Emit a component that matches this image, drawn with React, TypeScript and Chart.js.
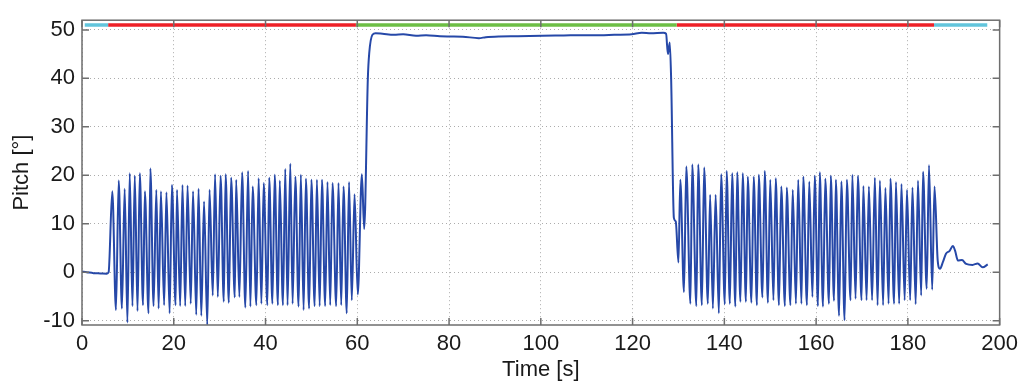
import React, { useEffect, useRef } from 'react';
import { Chart, registerables } from 'chart.js';

Chart.register(...registerables);

// Pitch time series (time in s, pitch in degrees)
const timeS = [
  0, 1, 2.5, 4, 5.4, 5.8,
  6.6, 7.4, 8.0, 8.7, 9.3, 9.9, 10.4, 11.0, 11.5, 12.1, 12.6, 13.3, 13.7, 14.5,
  14.9, 15.6, 16.2, 16.7, 17.2, 17.9, 18.4, 19.1, 19.6, 20.4, 20.7, 21.4, 21.9, 22.5,
  23.0, 23.7, 24.2, 24.9, 25.4, 26.0, 26.6, 27.3, 27.8, 28.5, 29.0, 29.6, 30.2, 30.9,
  31.3, 32.0, 32.5, 33.3, 33.6, 34.3, 34.9, 35.6, 36.2, 36.7, 37.2, 38.0, 38.5, 39.1,
  39.6, 40.4, 40.8, 41.5, 42.0, 42.7, 43.1, 43.8, 44.3, 44.8, 45.4, 45.9, 46.5, 47.2,
  47.7, 48.3, 48.8, 49.5, 50.0, 50.7, 51.2, 51.8, 52.3, 53.0, 53.5, 54.1, 54.6, 55.4,
  55.9, 56.5, 57.0, 57.7, 58.2, 58.8, 59.4, 60.1, 61.0, 61.5,
  62.3, 62.6, 63.3, 64.0, 65.5, 68.0, 70.0, 72.8, 75.0, 78.0, 80.0, 83.0, 86.5, 88.0,
  90.9, 95.0, 100.3, 105.0, 109.0, 113.0, 116.0, 119.8, 122.0, 124.0, 126.7, 127.3,
  127.7, 128.1, 128.4, 129.0, 129.4, 130.0,
  130.4, 131.2, 131.7, 132.6, 133.0, 133.9, 134.3, 135.1, 135.6, 136.4, 136.9, 137.5,
  138.1, 138.8, 139.3, 140.1, 140.5, 141.2, 141.7, 142.4, 142.8, 143.5, 144.0, 144.7,
  145.1, 145.9, 146.4, 147.1, 147.5, 148.3, 148.8, 149.5, 150.0, 150.7, 151.2, 151.9,
  152.4, 153.2, 153.6, 154.4, 154.9, 155.6, 156.1, 156.8, 157.2, 158.0, 158.5, 159.2,
  159.7, 160.4, 160.8, 161.5, 162.0, 162.8, 163.2, 163.9, 164.3, 165.0, 165.5, 166.2,
  166.7, 167.5, 167.9, 168.6, 169.1, 169.9, 170.3, 171.0, 171.5, 172.2, 172.8, 173.4,
  173.9, 174.6, 175.1, 175.8, 176.2, 177.0, 177.4, 178.1, 178.6, 179.3, 179.8, 180.5,
  181.0, 181.7, 182.2, 182.9, 183.3, 184.1, 184.6, 185.3, 185.8, 186.5, 187.0,
  187.6, 188.3, 189.1, 189.8, 190.3, 190.9, 191.8, 192.7, 194.1, 195.2, 196.3, 197.4,
];

const pitchDeg = [
  0.1, 0.0, -0.2, -0.25, -0.3, 0.0,
  16.7, -7.8, 18.9, -7.5, 17.2, -10.4, 20.4, -7.0, 19.9, -8.0, 20.4, -6.8, 16.7, -8.5,
  21.4, -7.0, 17.0, -7.5, 16.7, -6.8, 16.5, -8.5, 18.0, -6.8, 17.0, -7.0, 18.0, -7.0,
  17.9, -6.5, 16.7, -8.8, 17.2, -9.0, 14.6, -10.9, 17.0, -4.8, 20.2, -5.1, 19.9, -6.1,
  20.2, -6.3, 19.5, -5.2, 19.1, -5.1, 20.6, -7.3, 20.9, -7.1, 17.7, -6.8, 19.4, -6.5,
  18.4, -6.8, 19.5, -6.5, 20.1, -6.8, 18.9, -6.8, 21.3, -6.8, 22.4, -6.5, 19.7, -7.1,
  20.1, -7.8, 19.3, -7.5, 19.1, -7.0, 19.1, -7.0, 19.1, -7.0, 18.6, -6.8, 18.4, -7.0,
  18.4, -6.8, 17.7, -8.5, 18.6, -5.8, 16.1, -4.6, 20.2, 8.9,
  40.0, 45.2, 49.0, 49.3, 49.2, 49.0, 49.1, 48.8, 48.9, 48.7, 48.65, 48.6, 48.3, 48.5,
  48.65, 48.7, 48.8, 48.85, 48.9, 48.9, 49.0, 49.1, 49.4, 49.3, 49.4, 49.2,
  45.0, 47.4, 40.0, 11.2, 10.5, 2.0,
  19.1, -4.1, 21.8, -6.5, 22.2, -7.0, 22.2, -6.8, 21.6, -6.5, 16.0, -7.5,
  16.0, -8.5, 20.2, -6.6, 20.9, -6.5, 20.4, -7.1, 20.6, -6.1, 20.4, -6.1,
  19.7, -6.3, 19.7, -6.8, 20.1, -5.2, 20.9, -6.3, 19.1, -5.8, 19.4, -6.8,
  17.7, -7.0, 17.5, -6.8, 17.0, -6.5, 19.1, -6.5, 19.7, -6.8, 18.7, -5.1,
  19.9, -7.0, 20.6, -7.1, 19.3, -6.5, 19.9, -5.9, 19.1, -9.0, 18.7, -9.9,
  19.1, -5.8, 20.1, -5.5, 19.9, -5.8, 17.8, -5.8, 17.7, -5.8, 19.5, -6.8,
  18.9, -6.8, 17.4, -6.5, 19.3, -6.5, 18.6, -6.5, 18.2, -5.8, 17.0, -5.8,
  17.5, -6.6, 18.9, -4.8, 20.7, -3.4, 22.1, -3.6, 17.7, 2.4, 0.7,
  2.0, 3.8, 4.4, 5.4, 4.4, 2.4, 2.5, 1.7, 1.5, 1.8, 1.0, 1.6,
];

// Flight phases shown as the coloured strip along the top
const phaseStart = [0.6, 5.7, 59.7, 129.6, 185.7];
const phaseEnd = [5.7, 59.7, 129.6, 185.7, 197.3];
const phaseKind = ['idle', 'oscillate', 'hold', 'oscillate', 'idle'];
const phaseLevel = 51;

const xTicks = [0, 20, 40, 60, 80, 100, 120, 140, 160, 180, 200];
const yTicks = [-10, 0, 10, 20, 30, 40, 50];

const kindColor: Record<string, string> = {
  idle: '#62c5dc',
  oscillate: '#ee2027',
  hold: '#6cbe45',
};

const FONT = { family: '"Liberation Sans", Arial, Helvetica, sans-serif', size: 22 };
const TEXT = '#1a1a1a';

const frameTicks = {
  id: 'frameTicks',
  afterDraw(chart: any) {
    const { ctx, chartArea: a, scales } = chart;
    ctx.save();
    ctx.strokeStyle = '#6e6e6e';
    ctx.lineWidth = 1.5;
    ctx.strokeRect(a.left, a.top, a.right - a.left, a.bottom - a.top);
    const L = 7;
    ctx.beginPath();
    xTicks.forEach((v) => {
      const p = scales.x.getPixelForValue(v);
      ctx.moveTo(p, a.bottom);
      ctx.lineTo(p, a.bottom - L);
      ctx.moveTo(p, a.top);
      ctx.lineTo(p, a.top + L);
    });
    yTicks.forEach((v) => {
      const p = scales.y.getPixelForValue(v);
      ctx.moveTo(a.left, p);
      ctx.lineTo(a.left + L, p);
      ctx.moveTo(a.right, p);
      ctx.lineTo(a.right - L, p);
    });
    ctx.stroke();
    ctx.restore();
  },
};

export default function App() {
  const ref = useRef<HTMLCanvasElement | null>(null);

  useEffect(() => {
    document.body.style.margin = '0';
    const canvas = ref.current;
    if (!canvas) return;

    const pitchData = timeS.map((t, i) => ({ x: t, y: pitchDeg[i] }));
    const phaseSets = phaseStart.map((s, i) => ({
      label: phaseKind[i],
      data: [
        { x: s, y: phaseLevel },
        { x: phaseEnd[i], y: phaseLevel },
      ],
      borderColor: kindColor[phaseKind[i]],
      borderWidth: 3.5,
      pointRadius: 0,
      borderCapStyle: 'butt' as const,
      tension: 0,
    }));

    const chart = new Chart(canvas, {
      type: 'line',
      data: {
        datasets: [
          {
            label: 'Pitch',
            data: pitchData,
            borderColor: '#2648a8',
            borderWidth: 2,
            pointRadius: 0,
            cubicInterpolationMode: 'monotone',
            borderJoinStyle: 'round',
          },
          ...phaseSets,
        ],
      },
      options: {
        animation: false,
        responsive: false,
        devicePixelRatio: 1,
        layout: { padding: { top: 17, right: 22, left: 0, bottom: 0 } },
        plugins: { legend: { display: false }, tooltip: { enabled: false } },
        scales: {
          x: {
            type: 'linear',
            min: 0,
            max: 200,
            afterBuildTicks: (s: any) => {
              s.ticks = xTicks.map((v) => ({ value: v }));
            },
            afterFit: (s: any) => {
              s.height = 65;
            },
            ticks: { font: FONT, color: TEXT, padding: 6, maxRotation: 0, autoSkip: false },
            grid: { color: '#acacac', lineWidth: 1, drawTicks: false },
            border: { display: false, dash: [1, 3] },
            title: {
              display: true,
              text: 'Time [s]',
              font: FONT,
              color: TEXT,
              padding: { top: 0, bottom: 7 },
            },
          },
          y: {
            type: 'linear',
            min: -10.9,
            max: 52,
            afterBuildTicks: (s: any) => {
              s.ticks = yTicks.map((v) => ({ value: v }));
            },
            afterFit: (s: any) => {
              s.width = 82;
            },
            ticks: { font: FONT, color: TEXT, padding: 7, autoSkip: false },
            grid: { color: '#acacac', lineWidth: 1, drawTicks: false },
            border: { display: false, dash: [1, 3] },
            title: {
              display: true,
              text: 'Pitch [°]',
              font: FONT,
              color: TEXT,
              padding: { top: 9, bottom: 0 },
            },
          },
        },
      },
      plugins: [frameTicks],
    });

    return () => chart.destroy();
  }, []);

  return (
    <div style={{ width: 1024, height: 390 }}>
      <canvas ref={ref} width={1024} height={390} style={{ display: 'block' }} />
    </div>
  );
}
